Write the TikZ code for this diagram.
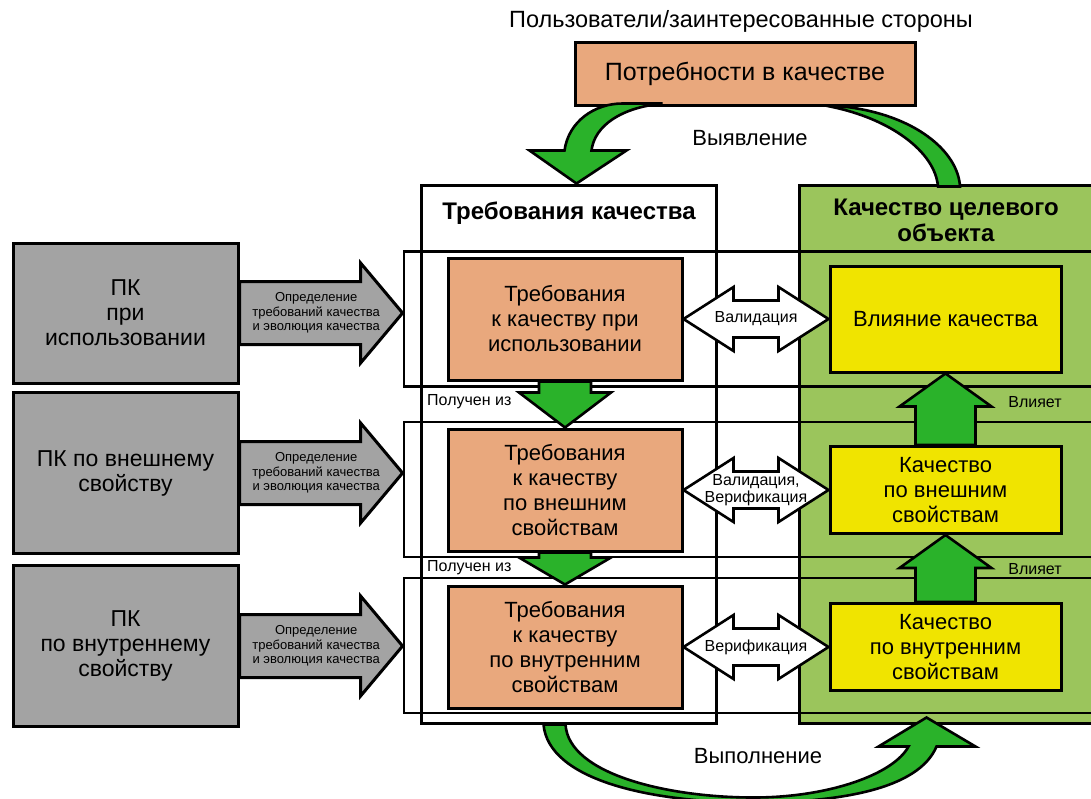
\documentclass[tikz,border=0pt]{standalone}
\usepackage{fontspec}
\setmainfont{Liberation Sans}
\usepackage{tikz}
\usetikzlibrary{calc}

\definecolor{peach}{RGB}{233,168,125}
\definecolor{greyfill}{RGB}{163,163,163}
\definecolor{leafgreen}{RGB}{155,197,92}
\definecolor{arrowgreen}{RGB}{42,178,42}
\definecolor{lemon}{RGB}{240,228,0}

\newcommand{\fsz}[2]{\fontsize{#1}{#2}\selectfont}

\newcommand{\fatarrow}[6]{%
	\coordinate (fa) at ($(#3)!#6!(#2)$);
	\filldraw[#1] ($(#2)!#4!90:(#3)$) -- ($(fa)!#4!90:(#3)$) -- ($(fa)!#5!90:(#3)$) -- (#3) -- ($(fa)!#5!-90:(#3)$) -- ($(fa)!#4!-90:(#3)$) -- ($(#2)!#4!-90:(#3)$) -- cycle;}

\newcommand{\dblarrow}[6]{%
	\coordinate (da) at ($(#2)!#6!(#3)$);
	\coordinate (db) at ($(#3)!#6!(#2)$);
	\filldraw[#1] (#2) -- ($(da)!#5!90:(#3)$) -- ($(da)!#4!90:(#3)$) -- ($(db)!#4!-90:(#2)$) -- ($(db)!#5!-90:(#2)$) -- (#3) -- ($(db)!#5!90:(#2)$) -- ($(db)!#4!90:(#2)$) -- ($(da)!#4!-90:(#3)$) -- ($(da)!#5!-90:(#3)$) -- cycle;}

\tikzset{
	box/.style={draw=black, line width=3pt, inner sep=0pt, align=center, text=black},
	needbox/.style={box, fill=peach, minimum width=340, minimum height=63, font={\fsz{25}{28}}},
	reqcol/.style={box, fill=white, minimum width=295, minimum height=538},
	qualcol/.style={box, fill=leafgreen, minimum width=301, minimum height=538},
	band/.style={draw=black, line width=2.8pt, minimum width=696, minimum height=135, inner sep=0pt},
	coltitle/.style={align=center, font={\fsz{24}{26}\bfseries}},
	reqbox/.style={box, fill=peach, minimum width=234, minimum height=122, font={\fsz{22}{25}}},
	qualbox/.style={box, fill=lemon, minimum width=231, minimum height=87, font={\fsz{22}{25}}},
	pkbox/.style={box, fill=greyfill, minimum width=225, minimum height=161, font={\fsz{23}{25}}},
	bigtext/.style={align=center, font={\fsz{22}{25}}},
	smalltext/.style={align=center, inner sep=0pt, font={\fsz{16}{17}}},
	arrowtext/.style={align=center, inner sep=0pt, font={\fsz{13}{14.5}}},
	greyarrow/.style={fill=greyfill, draw=black, line width=3pt},
	greenarrow/.style={fill=arrowgreen, draw=black, line width=2.6pt},
	whitearrow/.style={fill=white, draw=black, line width=2.6pt}
}

\begin{document}
\begin{tikzpicture}[x=1pt,y=-1pt]
		\useasboundingbox (0,0) rectangle (1091,798);
		\node[bigtext, font={\fsz{23.5}{26}}] (users) at (741,21) {Пользователи/заинтересованные стороны};
		\node[reqcol] (req) at (568.5,454) {};
		\node[qualcol] (qual) at (949.5,454) {};
		\node[band] (band1) at (752,319) {};
		\node[band] (band2) at (752,489.5) {};
		\node[band] (band3) at (752,645.5) {};
		\node[coltitle] (reqtitle) at (569,213) {Требования качества};
		\node[coltitle] (qualtitle) at (946,220) {Качество целевого\\объекта};
		\node[needbox] (needs) at (745,73.5) {Потребности в качестве};
		\node[bigtext] (reveal) at (750,138) {Выявление};
		\node[bigtext] (fulfil) at (758,756) {Выполнение};

		\begin{scope}[shift={($(req.north)+(8,0)$)}]
			\filldraw[greenarrow] (86,-80) .. controls (45,-76) and (18,-58) .. (15,-33) -- (50,-33) -- (0,0) -- (-47,-33) -- (-12,-33) .. controls (-8,-62) and (18,-80) .. (46,-80) -- cycle;
		\end{scope}
		\begin{scope}[shift={(needs.south)}]
			\filldraw[greenarrow] (85,0) .. controls (145,12) and (190,45) .. (193,80) -- (215,80) .. controls (213,45) and (170,8) .. (98,0) -- cycle;
		\end{scope}
		\begin{scope}[shift={(req.south)}]
			\filldraw[greenarrow] (-3,0) .. controls (0,50) and (100,73) .. (185,73) .. controls (260,73) and (325,50) .. (340,22) -- (310,22) -- (358,-7) -- (407,22) -- (368,22) .. controls (350,65) and (270,78) .. (185,78) .. controls (80,78) and (-20,55) .. (-25,0) -- cycle;
		\end{scope}

		\node[reqbox] (use) at (565,319) {Требования\\к качеству при\\использовании};
		\node[reqbox] (ext) at (565,490) {Требования\\к качеству\\по внешним\\свойствам};
		\node[reqbox] (int) at (565,647) {Требования\\к качеству\\по внутренним\\свойствам};
		\node[qualbox, minimum height=106] (impact) at (945.5,319) {Влияние качества};
		\node[qualbox] (extq) at (945.5,490) {Качество\\по внешним\\свойствам};
		\node[qualbox] (intq) at (945.5,647) {Качество\\по внутренним\\свойствам};
		\node[pkbox, minimum height=140] (pk1) at (125.5,313) {ПК\\при\\использовании};
		\node[pkbox] (pk2) at (125.5,473) {ПК по внешнему\\свойству};
		\node[pkbox] (pk3) at (125.5,646) {ПК\\по внутреннему\\свойству};

		\coordinate (in1) at (band1.west |- pk1.east);
		\coordinate (in2) at (band2.west |- pk2.east);
		\coordinate (in3) at (band3.west |- pk3.east);
		\fatarrow{greyarrow}{pk1.east}{in1}{31.5pt}{50pt}{42pt}
		\fatarrow{greyarrow}{pk2.east}{in2}{31.5pt}{50pt}{42pt}
		\fatarrow{greyarrow}{pk3.east}{in3}{31.5pt}{50pt}{42pt}
		\node[arrowtext] (def1) at ($(pk1.east)!.47!(in1)$) {Определение\\требований качества\\и эволюция качества};
		\node[arrowtext] (def2) at ($(pk2.east)!.47!(in2)$) {Определение\\требований качества\\и эволюция качества};
		\node[arrowtext] (def3) at ($(pk3.east)!.47!(in3)$) {Определение\\требований качества\\и эволюция качества};

		\fatarrow{greenarrow}{use.south}{ext.north}{26pt}{46pt}{35pt}
		\fatarrow{greenarrow}{ext.south}{int.north}{26pt}{46pt}{27pt}
		\fatarrow{greenarrow}{extq.north}{impact.south}{30pt}{46pt}{33pt}
		\fatarrow{greenarrow}{intq.north}{extq.south}{30pt}{46pt}{33pt}
		\node[smalltext, anchor=west] (from1) at (427,402) {Получен из};
		\node[smalltext, anchor=west] (from2) at (427,568) {Получен из};
		\node[smalltext] (affects1) at (1035,402) {Влияет};
		\node[smalltext] (affects2) at (1035,569) {Влияет};

		\dblarrow{whitearrow}{use.east}{impact.west}{18.5pt}{32pt}{50pt}
		\dblarrow{whitearrow}{ext.east}{extq.west}{18.5pt}{32pt}{50pt}
		\dblarrow{whitearrow}{int.east}{intq.west}{18.5pt}{32pt}{50pt}
		\node[smalltext] (val1) at ($(use.east)!.5!(impact.west)$) {Валидация};
		\node[smalltext] (val2) at ($(ext.east)!.5!(extq.west)$) {Валидация,\\Верификация};
		\node[smalltext] (val3) at ($(int.east)!.5!(intq.west)$) {Верификация};
	\end{tikzpicture}
\end{document}
